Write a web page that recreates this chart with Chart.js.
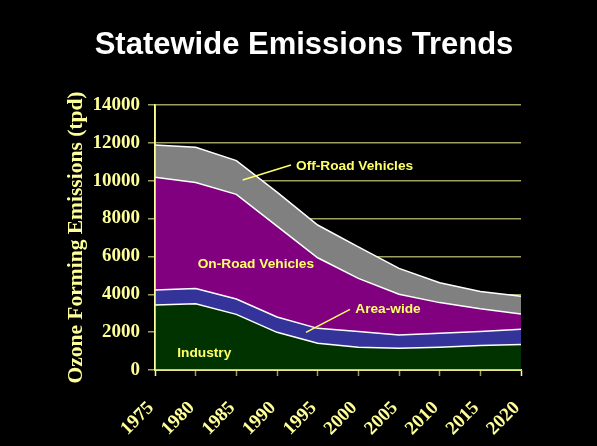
<!DOCTYPE html>
<html>
<head>
<meta charset="utf-8">
<script src="https://cdn.jsdelivr.net/npm/chart.js@4.4.0/dist/chart.umd.min.js"></script>
<style>
  html, body { margin: 0; padding: 0; background: #000; }
  #wrap { width: 597px; height: 446px; }
</style>
</head>
<body>
<div id="wrap"><canvas id="emChart" width="597" height="446"></canvas></div>
<script>
var YEARS = ['1975', '1980', '1985', '1990', '1995', '2000', '2005', '2010', '2015', '2020'];

// tons per day, stacked from the bottom
var industry = [3430, 3500, 2940, 1990, 1410, 1200, 1150, 1200, 1290, 1350];
var areaWide = [800, 800, 810, 810, 790, 830, 700, 740, 740, 800];
var onRoad   = [5950, 5610, 5530, 4800, 3730, 2810, 2150, 1620, 1200, 810];
var offRoad  = [1710, 1860, 1780, 1800, 1730, 1660, 1370, 1050, 920, 940];

var Y_MAX = 14000;
var Y_STEP = 2000;

var TITLE = 'Statewide Emissions Trends';
var TICK_YELLOW = '#ffff99';
var GRID_OLIVE = '#a0a060';
var NOTE_YELLOW = '#ffff66';

function series(label, data, color, fill) {
    return {
        label: label,
        data: data,
        backgroundColor: color,
        borderColor: '#ffffff',
        borderWidth: 1.5,
        pointRadius: 0,
        tension: 0,
        fill: fill
    };
}

// text labels placed in data units: [text, x index, y value]
var notes = [
    ['Off-Road Vehicles', 3.467, 10566],
    ['On-Road Vehicles', 1.05, 5373],
    ['Area-wide', 4.925, 3027],
    ['Industry', 0.548, 703]
];
var pointers = [
    [2.156, 10038, 3.344, 10830],
    [3.713, 1992, 4.795, 3207]
];

var notesPlugin = {
    id: 'notes',
    beforeDraw: function (chart) {
        // slide title, centred a bit right of the canvas middle like the original
        var ctx = chart.ctx;
        ctx.save();
        ctx.fillStyle = '#ffffff';
        ctx.font = 'bold 31px "Liberation Sans", Arial, sans-serif';
        ctx.textAlign = 'center';
        ctx.textBaseline = 'alphabetic';
        ctx.fillText(TITLE, 304, 53.5);
        ctx.restore();
    },
    afterDatasetsDraw: function (chart) {
        var ctx = chart.ctx;
        var xs = chart.scales.x, ys = chart.scales.y;
        var area = chart.chartArea;
        ctx.save();
        // axis lines on top of the filled areas
        ctx.strokeStyle = TICK_YELLOW;
        ctx.lineWidth = 1.5;
        ctx.beginPath();
        ctx.moveTo(area.left, area.top - 0.5);
        ctx.lineTo(area.left, area.bottom);
        ctx.lineTo(area.right, area.bottom);
        ctx.stroke();

        ctx.strokeStyle = NOTE_YELLOW;
        ctx.lineWidth = 1.5;
        pointers.forEach(function (p) {
            ctx.beginPath();
            ctx.moveTo(xs.getPixelForValue(p[0]), ys.getPixelForValue(p[1]));
            ctx.lineTo(xs.getPixelForValue(p[2]), ys.getPixelForValue(p[3]));
            ctx.stroke();
        });

        ctx.fillStyle = NOTE_YELLOW;
        ctx.font = 'bold 13.7px "Liberation Sans", Arial, sans-serif';
        ctx.textAlign = 'left';
        ctx.textBaseline = 'alphabetic';
        notes.forEach(function (n) {
            ctx.fillText(n[0], xs.getPixelForValue(n[1]), ys.getPixelForValue(n[2]));
        });
        ctx.restore();
    }
};

var ctx = document.getElementById('emChart').getContext('2d');
window.emChart = new Chart(ctx, {
    type: 'line',
    data: {
        labels: YEARS,
        datasets: [
            series('Industry', industry, '#003300', 'origin'),
            series('Area-wide', areaWide, '#333399', '-1'),
            series('On-Road Vehicles', onRoad, '#800080', '-1'),
            series('Off-Road Vehicles', offRoad, '#808080', '-1')
        ]
    },
    options: {
        responsive: false,
        animation: false,
        layout: {
            padding: { left: 11, right: 76, top: 105, bottom: 0 }
        },
        plugins: {
            legend: { display: false },
            tooltip: { enabled: false },
            title: { display: false }
        },
        scales: {
            x: {
                offset: false,
                grid: {
                    drawOnChartArea: false,
                    drawTicks: true,
                    tickLength: 6,
                    tickWidth: 1.5,
                    tickColor: function (c) {
                        return (c.index === 0 || c.index === YEARS.length - 1) ? TICK_YELLOW : GRID_OLIVE;
                    }
                },
                border: { color: TICK_YELLOW, width: 1.5 },
                ticks: {
                    color: TICK_YELLOW,
                    minRotation: 45,
                    maxRotation: 45,
                    autoSkip: false,
                    padding: 21,
                    labelOffset: -4,
                    font: { family: '"Liberation Serif", "Times New Roman", serif', size: 19, weight: 'bold' }
                },
                afterFit: function (scale) { scale.height = 76; }
            },
            y: {
                stacked: true,
                min: 0,
                max: Y_MAX,
                grid: {
                    color: GRID_OLIVE,
                    lineWidth: 1.5,
                    tickLength: 7,
                    tickColor: GRID_OLIVE
                },
                border: { color: TICK_YELLOW, width: 1.5 },
                ticks: {
                    stepSize: Y_STEP,
                    color: TICK_YELLOW,
                    padding: 8,
                    font: { family: '"Liberation Serif", "Times New Roman", serif', size: 19, weight: 'bold' },
                    callback: function (v) { return String(v); }
                },
                title: {
                    display: true,
                    text: 'Ozone Forming Emissions (tpd)',
                    color: TICK_YELLOW,
                    font: { family: '"Liberation Serif", "Times New Roman", serif', size: 21.5, weight: 'bold' },
                    padding: { top: 53, bottom: 0 }
                },
                afterFit: function (scale) { scale.width = 144; }
            }
        }
    },
    plugins: [notesPlugin]
});
</script>
</body>
</html>
